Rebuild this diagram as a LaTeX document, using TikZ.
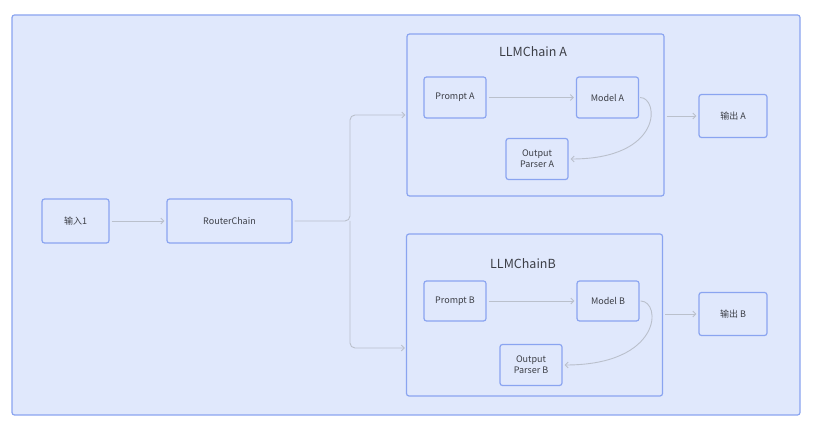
\documentclass[tikz,border=0pt]{standalone}
\usepackage{fontspec}
\setmainfont{Noto Sans CJK SC}
\usetikzlibrary{arrows.meta,calc}
\definecolor{bgblue}{RGB}{224,232,252}
\definecolor{edgeblue}{RGB}{138,164,240}
\definecolor{linegray}{RGB}{186,192,204}
\definecolor{txt}{RGB}{60,62,70}
\tikzset{
  box/.style={draw=edgeblue, line width=1.2pt, fill=bgblue, rounded corners=2.5pt,
    inner sep=0pt, align=center, font=\fontsize{9}{11}\selectfont, text=txt},
  chainbox/.style={draw=edgeblue, line width=1.2pt, fill=bgblue, rounded corners=2.5pt, inner sep=0pt},
  title/.style={font=\fontsize{12.5}{14}\selectfont, text=txt, inner sep=0pt},
  conn/.style={draw=linegray, line width=0.9pt, -{Straight Barb[length=3pt,width=6pt]},
    shorten <=2pt, shorten >=2pt}
}
\begin{document}
\begin{tikzpicture}[x=1pt,y=-1pt]
\useasboundingbox (0,0) rectangle (814,427);
\fill[white] (0,0) rectangle (814,427);
\draw[draw=edgeblue, line width=1.2pt, fill=bgblue, rounded corners=2.5pt] (12,15) rectangle (800,415);

\node[chainbox, minimum width=257pt, minimum height=162pt] (lA) at (535.5,115) {};
\node[chainbox, minimum width=256pt, minimum height=162pt] (lB) at (534.5,315) {};
\node[title] (tA) at (533,52) {LLMChain A};
\node[title] (tB) at (523,264) {LLMChainB};

\node[box, minimum width=67pt, minimum height=44pt] (in1) at (75.5,221) {输入1};
\node[box, minimum width=125pt, minimum height=44pt] (rc) at (229.5,221) {RouterChain};

\node[box, minimum width=62pt, minimum height=41pt] (pa) at (455,97.5) {Prompt A};
\node[box, minimum width=62pt, minimum height=41pt] (ma) at (607.5,97.5) {Model A};
\node[box, minimum width=62pt, minimum height=41pt] (opa) at (537,159) {Output\\Parser A};
\node[box, minimum width=68pt, minimum height=43pt] (oa) at (733,116) {输出 A};

\node[box, minimum width=62pt, minimum height=40pt] (pb) at (455,301) {Prompt B};
\node[box, minimum width=62pt, minimum height=40pt] (mb) at (608,301) {Model B};
\node[box, minimum width=62pt, minimum height=41pt] (opb) at (531,365) {Output\\Parser B};
\node[box, minimum width=68pt, minimum height=43pt] (ob) at (733,314) {输出 B};

\coordinate (bj) at (350,221);
\coordinate (bin) at (lB.west |- 0,348);

\draw[conn] (in1) -- (rc);
\draw[conn, rounded corners=5pt, shorten >=1pt] (rc.east) -- (bj) |- (lA.west);
\draw[conn, rounded corners=5pt, shorten <=0pt, shorten >=1pt] (bj) |- (bin);

\draw[conn] (pa) -- (ma);
\draw[conn, shorten <=1pt] (ma.east) .. controls +(20,0) and +(95,0) .. (opa.east);
\draw[conn] (lA.east |- oa) -- (oa);

\draw[conn] (pb) -- (mb);
\draw[conn, shorten <=1pt] (mb.east) .. controls +(22,0) and +(100,0) .. (opb.east);
\draw[conn] (lB.east |- ob) -- (ob);
\end{tikzpicture}
\end{document}
